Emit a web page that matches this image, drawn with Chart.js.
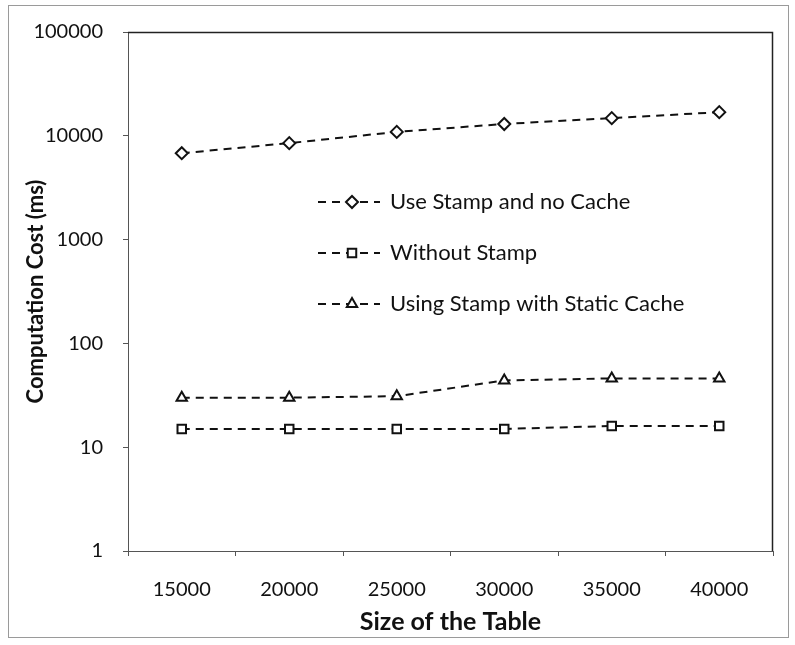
<!DOCTYPE html>
<html>
<head>
<meta charset="utf-8">
<script src="https://cdn.jsdelivr.net/npm/chart.js@4"></script>
<style>
  html, body { margin: 0; padding: 0; background: #fff; }
  #wrap { position: absolute; left: 0; top: 0; width: 795px; height: 645px; }
  #frame { position: absolute; left: 8px; top: 5px; width: 779px; height: 631px; border: 1px solid #9a9a9a; }
  canvas { position: absolute; left: 0; top: 0; }
</style>
</head>
<body>
<div id="wrap">
  <div id="frame"></div>
  <canvas id="costChart" width="795" height="645"></canvas>
</div>
<script>
// table sizes on the x axis
var tableSizes = ["15000", "20000", "25000", "30000", "35000", "40000"];
// computation cost in ms
var stampNoCache = [6800, 8500, 10900, 13000, 14800, 16900];
var withoutStamp = [15, 15, 15, 15, 16, 16];
var stampStaticCache = [30, 30, 31, 44, 46, 46];
var yTicks = [1, 10, 100, 1000, 10000, 100000];

var fontFamily = "Lato, 'Open Sans', sans-serif";

// box around the plot area (top and right sides)
var plotBox = {
    id: "plotBox",
    afterDraw: function (chart) {
        var a = chart.chartArea;
        var ctx = chart.ctx;
        ctx.save();
        ctx.strokeStyle = "#222";
        ctx.lineWidth = 1.5;
        ctx.beginPath();
        ctx.moveTo(a.left, a.top + 0.5);
        ctx.lineTo(a.right - 0.5, a.top + 0.5);
        ctx.lineTo(a.right - 0.5, a.bottom);
        ctx.stroke();
        ctx.restore();
    },
};

// legend drawn inside the plot area, like the original
var legendInside = {
    id: "legendInside",
    afterDraw: function (chart) {
        var ctx = chart.ctx;
        chart.data.datasets.forEach(function (ds, i) {
            var y = 202 + i * 51;
            ctx.save();
            ctx.strokeStyle = ds.borderColor;
            ctx.lineWidth = ds.borderWidth;
            ctx.setLineDash(ds.borderDash);
            ctx.beginPath();
            ctx.moveTo(318, y);
            ctx.lineTo(380, y);
            ctx.stroke();
            ctx.setLineDash([]);
            ctx.fillStyle = ds.pointBackgroundColor;
            ctx.strokeStyle = ds.pointBorderColor;
            ctx.lineWidth = ds.pointBorderWidth;
            Chart.helpers.drawPoint(ctx, {
                pointStyle: ds.pointStyle,
                radius: ds.pointRadius,
                borderWidth: ds.pointBorderWidth,
                rotation: 0,
            }, 352, y);
            ctx.fillStyle = "#111";
            ctx.font = "22px " + fontFamily;
            ctx.textBaseline = "middle";
            ctx.fillText(ds.label, 390, y);
            ctx.restore();
        });
    },
};

function makeSeries(label, data, style) {
    return {
        label: label,
        data: data,
        borderColor: "#111",
        borderWidth: 2,
        borderDash: [8, 6],
        fill: false,
        tension: 0,
        pointStyle: style,
        pointRadius: 6,
        pointBackgroundColor: "#fff",
        pointBorderColor: "#111",
        pointBorderWidth: 2,
    };
}

var ctx = document.getElementById("costChart").getContext("2d");

new Chart(ctx, {
    type: "line",
    data: {
        labels: tableSizes,
        datasets: [
            makeSeries("Use Stamp and no Cache", stampNoCache, "rectRot"),
            makeSeries("Without Stamp", withoutStamp, "rect"),
            makeSeries("Using Stamp with Static Cache", stampStaticCache, "triangle"),
        ],
    },
    options: {
        responsive: false,
        animation: false,
        layout: {
            padding: { top: 32, right: 22, left: 0, bottom: 0 },
        },
        plugins: {
            legend: { display: false },
            tooltip: { enabled: false },
        },
        scales: {
            x: {
                offset: true,
                grid: { drawOnChartArea: false, tickLength: 5, color: "#555", offset: true },
                border: { color: "#555" },
                ticks: {
                    color: "#111",
                    padding: 22,
                    maxRotation: 0,
                    font: { family: fontFamily, size: 20 },
                },
                title: {
                    display: true,
                    text: "Size of the Table",
                    color: "#111",
                    padding: { top: 2, bottom: 8 },
                    font: { family: fontFamily, size: 25, weight: "bold" },
                },
                afterFit: function (scale) {
                    scale.height = 94;
                },
            },
            y: {
                type: "logarithmic",
                min: 1,
                max: 100000,
                grid: { drawOnChartArea: false, tickLength: 5, color: "#555" },
                border: { color: "#555" },
                afterBuildTicks: function (scale) {
                    scale.ticks = yTicks.map(function (v) {
                        return { value: v };
                    });
                },
                ticks: {
                    color: "#111",
                    padding: 20,
                    font: { family: fontFamily, size: 20 },
                    callback: function (value) {
                        return String(value);
                    },
                },
                title: {
                    display: true,
                    text: "Computation Cost (ms)",
                    color: "#111",
                    padding: { top: 23, bottom: 2 },
                    font: { family: fontFamily, size: 22, weight: "bold" },
                },
                afterFit: function (scale) {
                    scale.width = 128;
                },
            },
        },
    },
    plugins: [plotBox, legendInside],
});
</script>
</body>
</html>
